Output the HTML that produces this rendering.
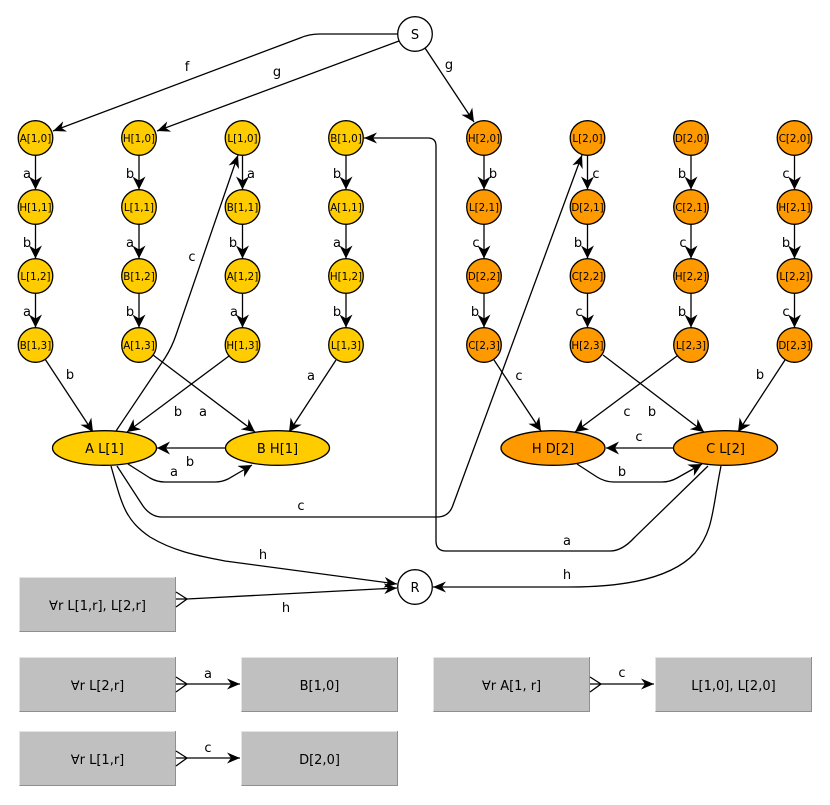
<!DOCTYPE html>
<html><head><meta charset="utf-8"><style>
html,body{margin:0;padding:0;background:#fff}
svg{display:block}
text{font-family:"DejaVu Sans","Liberation Sans",sans-serif;fill:#000;text-anchor:middle}
.n{font-size:10.3px}
.l{font-size:13px}
.e{fill:none;stroke:#000;stroke-width:1.3;marker-end:url(#s)}
.v{fill:none;stroke:#000;stroke-width:1.3;marker-end:url(#b)}
.c{stroke:#000;stroke-width:1.3}
.y{fill:#ffcc00}
.o{fill:#ff9900}
.w{fill:#fff}
.f{fill:none;stroke:#000;stroke-width:1.3}
.hi{stroke:#e4e4e4;fill:none}
.lo{stroke:#8f8f8f;fill:none}
</style></head><body>
<svg width="830" height="805" viewBox="0 0 830 805" xmlns="http://www.w3.org/2000/svg">
<defs>
<marker id="s" markerUnits="userSpaceOnUse" markerWidth="16" markerHeight="14" refX="13" refY="6" orient="auto"><path d="M13,6 L0,0.5 L4,6 L0,11.5 Z" fill="#000"/></marker>
<marker id="b" markerUnits="userSpaceOnUse" markerWidth="16" markerHeight="14" refX="13" refY="6.5" orient="auto"><path d="M13,6.5 L0,0 L4,6.5 L0,13 Z" fill="#000"/></marker>
</defs>

<!-- boxes -->
<g>
<rect x="19.5" y="577" width="156" height="55" fill="#c0c0c0"/><path class="hi" d="M19.5,632V577.5H175.5"/><path class="lo" d="M19.5,631.5H175.5V577"/>
<rect x="19.5" y="657" width="156" height="55" fill="#c0c0c0"/><path class="hi" d="M19.5,712V657.5H175.5"/><path class="lo" d="M19.5,711.5H175.5V657"/>
<rect x="19.5" y="731" width="156" height="55" fill="#c0c0c0"/><path class="hi" d="M19.5,786V731.5H175.5"/><path class="lo" d="M19.5,785.5H175.5V731"/>
<rect x="241.5" y="657" width="156" height="55" fill="#c0c0c0"/><path class="hi" d="M241.5,712V657.5H397.5"/><path class="lo" d="M241.5,711.5H397.5V657"/>
<rect x="241.5" y="731" width="156" height="55" fill="#c0c0c0"/><path class="hi" d="M241.5,786V731.5H397.5"/><path class="lo" d="M241.5,785.5H397.5V731"/>
<rect x="433.5" y="657" width="156" height="55" fill="#c0c0c0"/><path class="hi" d="M433.5,712V657.5H589.5"/><path class="lo" d="M433.5,711.5H589.5V657"/>
<rect x="655.5" y="657" width="156" height="55" fill="#c0c0c0"/><path class="hi" d="M655.5,712V657.5H811.5"/><path class="lo" d="M655.5,711.5H811.5V657"/>
</g>

<!-- top edges -->
<path class="e" d="M398,34 L320,34 Q309,34 300,38 L53,131"/>
<path class="e" d="M399,41 L157,131"/>
<path class="v" d="M425,48 L474,122"/>

<!-- chains -->
<path class="v" d="M35.5,155.5V189.5"/><path class="v" d="M35.5,224.5V258.5"/><path class="v" d="M35.5,293.5V327.5"/>
<path class="v" d="M139,155.5V189.5"/><path class="v" d="M139,224.5V258.5"/><path class="v" d="M139,293.5V327.5"/>
<path class="v" d="M242.5,155.5V189.5"/><path class="v" d="M242.5,224.5V258.5"/><path class="v" d="M242.5,293.5V327.5"/>
<path class="v" d="M346,155.5V189.5"/><path class="v" d="M346,224.5V258.5"/><path class="v" d="M346,293.5V327.5"/>
<path class="v" d="M484,155.5V189.5"/><path class="v" d="M484,224.5V258.5"/><path class="v" d="M484,293.5V327.5"/>
<path class="v" d="M587.5,155.5V189.5"/><path class="v" d="M587.5,224.5V258.5"/><path class="v" d="M587.5,293.5V327.5"/>
<path class="v" d="M691,155.5V189.5"/><path class="v" d="M691,224.5V258.5"/><path class="v" d="M691,293.5V327.5"/>
<path class="v" d="M794.5,155.5V189.5"/><path class="v" d="M794.5,224.5V258.5"/><path class="v" d="M794.5,293.5V327.5"/>

<!-- to ellipses -->
<path class="v" d="M45,359 L93,432"/>
<path class="v" d="M153,355 L255,432"/>
<path class="v" d="M229,356 L127,432"/>
<path class="v" d="M336,360 L289,432"/>
<path class="v" d="M494,360 L541,431"/>
<path class="v" d="M603,355 L704,432"/>
<path class="v" d="M677,356 L575,432"/>
<path class="v" d="M785,360 L738,432"/>

<!-- ellipse edges -->
<path class="e" d="M116,431 L165,358 Q172,347 176,335 L238,155"/>
<path class="v" d="M225,448 L157,448"/>
<path class="v" d="M128,464 L150,478 Q157,482 165,482 L215,482 Q222,482 228,479 L252,465"/>
<path class="e" d="M117,466 L143,506 Q151,517 162,517 L437,517 Q449,517 453,505 L582,155"/>
<path class="e" d="M111,466 C122,505 125,520 150,537 C175,552 200,556 225,561 L397,584"/>
<path class="v" d="M674,448 L606,448"/>
<path class="v" d="M577,464 L597,477 Q605,482 614,482 L662,482 Q670,482 677,478 L702,464"/>
<path class="e" d="M708,466 L634,538 Q622,551 610,551 L446,551 Q436,551 436,541 L436,146 Q436,138 428,138 L364,138"/>
<path class="e" d="M721,466 C712,510 714,530 695,553 C670,580 620,587 570,587 L433,587"/>

<!-- box edges -->
<path class="e" d="M187,599 L397,588"/>
<path class="f" d="M176,592 L187,599 L176,607 M176,599 L187,599"/>
<path class="f" d="M176,677 L187,684 L176,692 M176,684 L187,684"/>
<path class="e" d="M187,684 L240,684"/>
<path class="f" d="M176,751 L187,758 L176,766 M176,758 L187,758"/>
<path class="e" d="M187,758 L240,758"/>
<path class="f" d="M590,677 L601,684 L590,692 M590,684 L601,684"/>
<path class="e" d="M601,684 L654,684"/>

<!-- nodes -->
<circle class="c w" cx="415" cy="34" r="17.3"/><circle class="c w" cx="415" cy="587" r="17.3"/>
<g class="c y">
<circle cx="35.5" cy="138" r="17.3"/><circle cx="35.5" cy="207" r="17.3"/><circle cx="35.5" cy="276" r="17.3"/><circle cx="35.5" cy="345" r="17.3"/>
<circle cx="139" cy="138" r="17.3"/><circle cx="139" cy="207" r="17.3"/><circle cx="139" cy="276" r="17.3"/><circle cx="139" cy="345" r="17.3"/>
<circle cx="242.5" cy="138" r="17.3"/><circle cx="242.5" cy="207" r="17.3"/><circle cx="242.5" cy="276" r="17.3"/><circle cx="242.5" cy="345" r="17.3"/>
<circle cx="346" cy="138" r="17.3"/><circle cx="346" cy="207" r="17.3"/><circle cx="346" cy="276" r="17.3"/><circle cx="346" cy="345" r="17.3"/>
<ellipse cx="104.5" cy="448" rx="52" ry="17.3"/><ellipse cx="277.5" cy="448" rx="52" ry="17.3"/>
</g>
<g class="c o">
<circle cx="484" cy="138" r="17.3"/><circle cx="484" cy="207" r="17.3"/><circle cx="484" cy="276" r="17.3"/><circle cx="484" cy="345" r="17.3"/>
<circle cx="587.5" cy="138" r="17.3"/><circle cx="587.5" cy="207" r="17.3"/><circle cx="587.5" cy="276" r="17.3"/><circle cx="587.5" cy="345" r="17.3"/>
<circle cx="691" cy="138" r="17.3"/><circle cx="691" cy="207" r="17.3"/><circle cx="691" cy="276" r="17.3"/><circle cx="691" cy="345" r="17.3"/>
<circle cx="794.5" cy="138" r="17.3"/><circle cx="794.5" cy="207" r="17.3"/><circle cx="794.5" cy="276" r="17.3"/><circle cx="794.5" cy="345" r="17.3"/>
<ellipse cx="553" cy="448" rx="52" ry="17.3"/><ellipse cx="725.5" cy="448" rx="52" ry="17.3"/>
</g>

<!-- node text -->
<g class="n">
<text x="35.5" y="142">A[1,0]</text><text x="35.5" y="211">H[1,1]</text><text x="35.5" y="280">L[1,2]</text><text x="35.5" y="349">B[1,3]</text>
<text x="139" y="142">H[1,0]</text><text x="139" y="211">L[1,1]</text><text x="139" y="280">B[1,2]</text><text x="139" y="349">A[1,3]</text>
<text x="242.5" y="142">L[1,0]</text><text x="242.5" y="211">B[1,1]</text><text x="242.5" y="280">A[1,2]</text><text x="242.5" y="349">H[1,3]</text>
<text x="346" y="142">B[1,0]</text><text x="346" y="211">A[1,1]</text><text x="346" y="280">H[1,2]</text><text x="346" y="349">L[1,3]</text>
<text x="484" y="142">H[2,0]</text><text x="484" y="211">L[2,1]</text><text x="484" y="280">D[2,2]</text><text x="484" y="349">C[2,3]</text>
<text x="587.5" y="142">L[2,0]</text><text x="587.5" y="211">D[2,1]</text><text x="587.5" y="280">C[2,2]</text><text x="587.5" y="349">H[2,3]</text>
<text x="691" y="142">D[2,0]</text><text x="691" y="211">C[2,1]</text><text x="691" y="280">H[2,2]</text><text x="691" y="349">L[2,3]</text>
<text x="794.5" y="142">C[2,0]</text><text x="794.5" y="211">H[2,1]</text><text x="794.5" y="280">L[2,2]</text><text x="794.5" y="349">D[2,3]</text>
</g>
<g class="l">
<text x="415" y="39">S</text><text x="415" y="592">R</text>
<text x="104.5" y="453">A L[1]</text><text x="277.5" y="453">B H[1]</text>
<text x="553" y="453">H D[2]</text><text x="725.5" y="453">C L[2]</text>
<text x="97.5" y="610">∀r L[1,r], L[2,r]</text>
<text x="97.5" y="690">∀r L[2,r]</text>
<text x="97.5" y="764">∀r L[1,r]</text>
<text x="319.5" y="690">B[1,0]</text>
<text x="319.5" y="764">D[2,0]</text>
<text x="511.5" y="690">∀r A[1, r]</text>
<text x="733.5" y="690">L[1,0], L[2,0]</text>

<!-- edge labels -->
<text x="187" y="71">f</text><text x="277" y="76">g</text><text x="449" y="69">g</text>
<text x="27" y="178">a</text><text x="27" y="247">b</text><text x="27" y="316">a</text>
<text x="130" y="178">b</text><text x="130" y="247">a</text><text x="130" y="316">b</text>
<text x="251" y="178">a</text><text x="233" y="247">b</text><text x="234" y="316">a</text>
<text x="337" y="178">b</text><text x="337" y="247">a</text><text x="337" y="316">b</text>
<text x="493" y="178">b</text><text x="476" y="247">c</text><text x="475" y="316">b</text>
<text x="596" y="178">c</text><text x="578" y="247">b</text><text x="579" y="316">c</text>
<text x="682" y="178">b</text><text x="683" y="247">c</text><text x="682" y="316">b</text>
<text x="786" y="178">c</text><text x="786" y="247">b</text><text x="786" y="316">c</text>
<text x="192" y="261">c</text><text x="70" y="379">b</text><text x="311" y="380">a</text>
<text x="178" y="416">b</text><text x="203" y="416">a</text><text x="190" y="466">b</text><text x="174" y="476">a</text>
<text x="301" y="510">c</text><text x="263" y="559">h</text><text x="286" y="612">h</text>
<text x="519" y="380">c</text><text x="760" y="379">b</text><text x="627" y="416">c</text><text x="652" y="416">b</text>
<text x="639" y="441">c</text><text x="622" y="476">b</text><text x="567" y="545">a</text><text x="567" y="579">h</text>
<text x="208" y="678">a</text><text x="208" y="752">c</text><text x="622" y="677">c</text>
</g>
</svg>
</body></html>
